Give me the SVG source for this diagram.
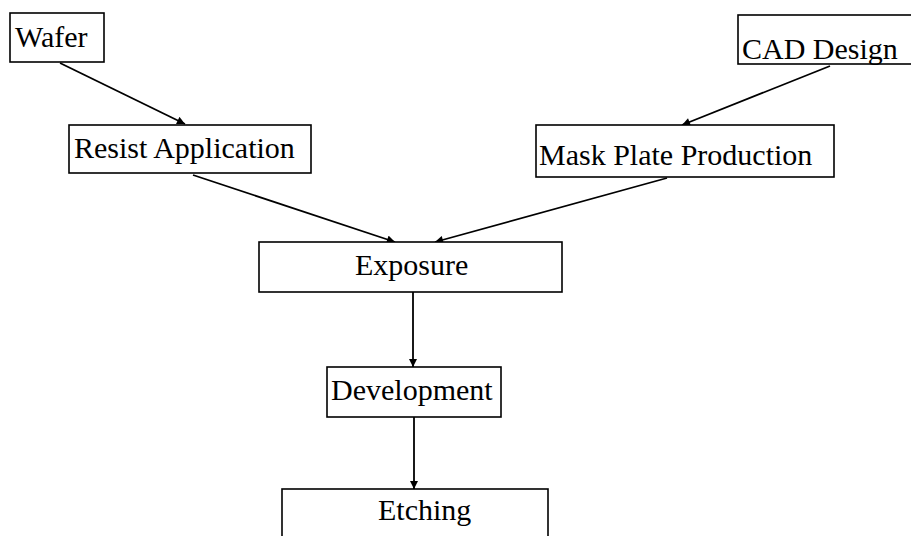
<svg xmlns="http://www.w3.org/2000/svg" width="911" height="536" viewBox="0 0 911 536">
<style>
.box{fill:#fff;stroke:#000;stroke-width:1.6}
.lbl{font-family:"Liberation Serif","Times New Roman",serif;font-size:30px;fill:#000}
.edge{stroke:#000;stroke-width:1.8;fill:none;marker-end:url(#ah)}
</style>
<defs>
<marker id="ah" viewBox="0 0 10 10" refX="10" refY="5" markerWidth="5" markerHeight="4.5" orient="auto" markerUnits="strokeWidth">
<path d="M0,0 L10,5 L0,10 z" fill="#000"/>
</marker>
</defs>
<rect width="911" height="536" fill="#fff"/>
<g id="connectors">
<line class="edge" x1="60" y1="63" x2="185" y2="124"/>
<line class="edge" x1="830" y1="66" x2="682" y2="125"/>
<line class="edge" x1="193" y1="175" x2="395" y2="242"/>
<line class="edge" x1="667" y1="178" x2="435" y2="242"/>
<line class="edge" x1="413" y1="292" x2="413" y2="367"/>
<line class="edge" x1="414" y1="417" x2="414" y2="489"/>
</g>
<g id="wafer"><rect class="box" x="10" y="13" width="94" height="49"/><text class="lbl" x="15" y="47">Wafer</text></g>
<g id="cad"><rect class="box" x="738" y="15" width="180" height="49"/><text class="lbl" x="742" y="59">CAD Design</text></g>
<g id="resist"><rect class="box" x="69" y="125" width="242" height="48"/><text class="lbl" x="74" y="158">Resist Application</text></g>
<g id="mask"><rect class="box" x="536" y="125" width="298" height="52"/><text class="lbl" x="539" y="165">Mask Plate Production</text></g>
<g id="exposure"><rect class="box" x="259" y="242" width="303" height="50"/><text class="lbl" x="355" y="275">Exposure</text></g>
<g id="development"><rect class="box" x="327" y="367" width="174" height="50"/><text class="lbl" x="331" y="400">Development</text></g>
<g id="etching"><rect class="box" x="282" y="489" width="266" height="60"/><text class="lbl" x="378" y="520">Etching</text></g>
</svg>
